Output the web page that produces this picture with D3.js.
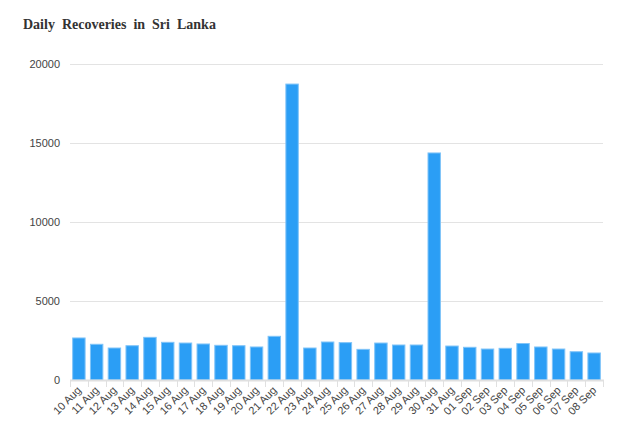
<!DOCTYPE html>
<html><head><meta charset="utf-8">
<script src="https://cdn.jsdelivr.net/npm/d3@7"></script>
<style>body{margin:0;background:#fff;}svg{display:block;}</style>
</head><body>
<svg id="c" width="625" height="440"></svg>
<script>
const categories = ["10 Aug","11 Aug","12 Aug","13 Aug","14 Aug","15 Aug","16 Aug","17 Aug","18 Aug","19 Aug","20 Aug","21 Aug","22 Aug","23 Aug","24 Aug","25 Aug","26 Aug","27 Aug","28 Aug","29 Aug","30 Aug","31 Aug","01 Sep","02 Sep","03 Sep","04 Sep","05 Sep","06 Sep","07 Sep","08 Sep"];
const recoveries = [2660,2260,2025,2170,2700,2385,2340,2280,2195,2170,2090,2765,18730,2025,2405,2365,1940,2340,2215,2215,14370,2150,2070,1960,2005,2310,2090,1960,1790,1710];
const yTicks = [0,5000,10000,15000,20000];
const title = "Daily Recoveries in Sri Lanka";

const svg = d3.select("#c");
const m = {left:70, right:603, top:64, bottom:380};
const x = d3.scaleBand().domain(categories).range([m.left, m.right]).paddingInner(0.3).paddingOuter(0.15);
const y = d3.scaleLinear().domain([0,20000]).range([m.bottom, m.top]);

svg.append("text").attr("x",23).attr("y",29).attr("font-family","Liberation Serif, Times New Roman, serif")
  .attr("font-weight","bold").attr("font-size",14).attr("fill","#333").attr("word-spacing","3.5px").text(title);

// grid
svg.append("g").selectAll("line").data(yTicks.filter(d=>d>0)).join("line")
  .attr("x1",m.left).attr("x2",m.right).attr("y1",d=>Math.round(y(d))+0.5).attr("y2",d=>Math.round(y(d))+0.5)
  .attr("stroke","#e3e3e3").attr("stroke-width",1);
svg.append("g").selectAll("text").data(yTicks).join("text")
  .attr("x",60).attr("y",d=>y(d)+4).attr("text-anchor","end")
  .attr("font-family","Arial, Liberation Sans, sans-serif").attr("font-size",11).attr("fill","#444").text(d=>d);

// bars
svg.append("g").selectAll("rect").data(recoveries).join("rect")
  .attr("x",(d,i)=>x(categories[i])).attr("width",x.bandwidth())
  .attr("y",d=>y(d)).attr("height",d=>y(0)-y(d))
  .attr("fill","#2b9ef5").attr("stroke","#80c4f8").attr("stroke-width",1);

// x axis
const xa = svg.append("g");
xa.append("line").attr("x1",m.left).attr("x2",m.right+1).attr("y1",m.bottom+0.5).attr("y2",m.bottom+0.5)
  .attr("stroke","#e0e0e0").attr("stroke-width",2);
const bounds = d3.range(categories.length+1).map(i=>m.left + i*(m.right-m.left)/categories.length);
xa.selectAll("line.t").data(bounds).join("line").attr("class","t")
  .attr("x1",d=>Math.round(d)+0.5).attr("x2",d=>Math.round(d)+0.5).attr("y1",m.bottom).attr("y2",m.bottom+7)
  .attr("stroke","#e0e0e0").attr("stroke-width",1);
xa.selectAll("text").data(categories).join("text")
  .attr("transform",d=>`translate(${x(d)+x.bandwidth()/2+3},${m.bottom+11}) rotate(-45)`)
  .attr("text-anchor","end").attr("font-family","Arial, Liberation Sans, sans-serif").attr("font-size",11)
  .attr("fill","#444").text(d=>d);
</script>
</body></html>
